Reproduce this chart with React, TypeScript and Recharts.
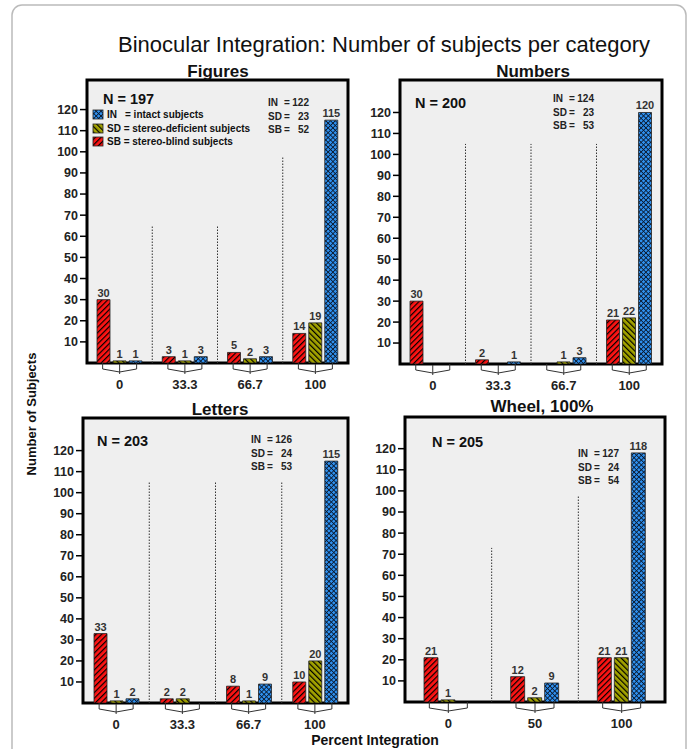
import React from "react";
import {
  Bar,
  BarChart,
  CartesianGrid,
  LabelList,
  ReferenceArea,
  ReferenceLine,
  XAxis,
  YAxis,
} from "recharts";

const FONT = "'Liberation Sans', Arial, Helvetica, sans-serif";

// categories
const CATS4 = ["0", "33.3", "66.7", "100"];
const WHEEL_CATS = ["0", "50", "100"];
const Y_TICKS = [10, 20, 30, 40, 50, 60, 70, 80, 90, 100, 110, 120];

// Figures
const figuresSB = [30, 3, 5, 14];
const figuresSD = [1, 1, 2, 19];
const figuresIN = [1, 3, 3, 115];
const figuresSep = [65, 65, 98];

// Numbers
const numbersSB = [30, 2, null, 21];
const numbersSD = [null, null, 1, 22];
const numbersIN = [null, 1, 3, 120];
const numbersSep = [105, 105, 105];

// Letters
const lettersSB = [33, 2, 8, 10];
const lettersSD = [1, 2, 1, 20];
const lettersIN = [2, null, 9, 115];
const lettersSep = [105, 105, 105];

// Wheel, 100%
const wheelSB = [21, 12, 21];
const wheelSD = [1, 2, 21];
const wheelIN = [null, 9, 118];
const wheelSep = [73, 98];

// totals per panel (IN, SD, SB)
const figuresTot = ["122", "23", "52"];
const numbersTot = ["124", "23", "53"];
const lettersTot = ["126", "24", "53"];
const wheelTot = ["127", "24", "54"];

type Val = number | null;

type PanelProps = {
  plot: { x0: number; x1: number; y0: number; y1: number };
  cats: string[];
  sb: Val[];
  sd: Val[];
  inn: Val[];
  seps: number[];
  dmax: number;
  barSize: number;
  half: number;
};

const YW = 57;
const MT = 20;
const MR = 12;
const XH = 40;

function BracketTick(props: any) {
  const { x, y, payload, half } = props;
  return (
    <g>
      <path
        d={`M${x - half},${y} L${x - half},${y + 6} L${x},${y + 9} L${x + half},${y + 6} L${x + half},${y}`}
        fill="none"
        stroke="#333"
        strokeWidth={1}
      />
      <line x1={x} y1={y + 1} x2={x} y2={y + 11} stroke="#333" strokeWidth={1} />
      <text
        x={x}
        y={y + 26}
        textAnchor="middle"
        fontFamily={FONT}
        fontWeight="bold"
        fontSize={13}
        fill="#222"
      >
        {payload.value}
      </text>
    </g>
  );
}

function Panel({ plot, cats, sb, sd, inn, seps, dmax, barSize, half }: PanelProps) {
  const data = cats.map((c, i) => ({ cat: c, idx: i + 0.5, sb: sb[i], sd: sd[i], inn: inn[i] }));
  const width = plot.x1 - plot.x0 + YW + MR;
  const height = plot.y1 - plot.y0 + MT + XH;
  const labelStyle = { fontFamily: FONT, fontWeight: "bold", fontSize: 11, fill: "#333" };
  return (
    <div style={{ position: "absolute", left: plot.x0 - YW, top: plot.y0 - MT }}>
      <BarChart
        width={width}
        height={height}
        data={data}
        margin={{ top: MT, right: MR, bottom: 0, left: 0 }}
        barGap={3}
      >
        <CartesianGrid fill="#efefef" stroke="none" horizontal={false} vertical={false} />
        <XAxis
          dataKey="cat"
          height={XH}
          axisLine={false}
          tickLine={false}
          tickSize={0}
          tickMargin={0}
          interval={0}
          tick={<BracketTick half={half} />}
        />
        <XAxis xAxisId="sep" dataKey="idx" type="number" domain={[0, cats.length]} hide allowDataOverflow />
        <YAxis
          width={YW}
          domain={[0, dmax]}
          ticks={Y_TICKS}
          allowDataOverflow
          axisLine={false}
          tickSize={7}
          tickLine={{ stroke: "#000", strokeWidth: 1.5 }}
          tick={{ fontFamily: FONT, fontWeight: "bold", fontSize: 12.5, fill: "#222" }}
        />
        {seps.map((h, i) => (
          <ReferenceLine
            key={i}
            xAxisId="sep"
            segment={[
              { x: i + 1, y: 0 },
              { x: i + 1, y: h },
            ]}
            stroke="#333"
            strokeDasharray="1.5 1.5"
            strokeWidth={1}
          />
        ))}
        <Bar dataKey="sb" fill="url(#pRed)" stroke="#222" strokeWidth={0.8} barSize={barSize} isAnimationActive={false}>
          <LabelList dataKey="sb" position="top" offset={3} style={labelStyle} />
        </Bar>
        <Bar dataKey="sd" fill="url(#pOlive)" stroke="#222" strokeWidth={0.8} barSize={barSize} isAnimationActive={false}>
          <LabelList dataKey="sd" position="top" offset={3} style={labelStyle} />
        </Bar>
        <Bar dataKey="inn" fill="url(#pBlue)" stroke="#222" strokeWidth={0.8} barSize={barSize} isAnimationActive={false}>
          <LabelList dataKey="inn" position="top" offset={3} style={labelStyle} />
        </Bar>
        <ReferenceArea
          xAxisId="sep"
          x1={0}
          x2={cats.length}
          y1={0}
          y2={dmax}
          fill="none"
          stroke="#000"
          strokeWidth={3}
          ifOverflow="visible"
        />
      </BarChart>
    </div>
  );
}

const GROUPS = ["IN", "SD", "SB"];

function Info({ x, y, vals }: { x: number; y: number; vals: string[] }) {
  return (
    <g fontFamily={FONT} fontWeight="bold" fontSize={10} fill="#222">
      {vals.map((v, i) => (
        <g key={i}>
          <text x={x} y={y + i * 13.5}>{GROUPS[i]}</text>
          <text x={x + 16} y={y + i * 13.5}>=</text>
          <text x={x + 41} y={y + i * 13.5} textAnchor="end">{v}</text>
        </g>
      ))}
    </g>
  );
}

export default function App() {
  return (
    <div style={{ position: "absolute", left: 0, top: 0, width: 693, height: 749, background: "#fff", fontFamily: FONT }}>
      <Panel plot={{ x0: 87, x1: 348, y0: 80, y1: 363 }} cats={CATS4} sb={figuresSB} sd={figuresSD} inn={figuresIN} seps={figuresSep} dmax={134} barSize={13} half={17} />
      <Panel plot={{ x0: 400, x1: 662, y0: 80, y1: 364 }} cats={CATS4} sb={numbersSB} sd={numbersSD} inn={numbersIN} seps={numbersSep} dmax={135.5} barSize={13} half={17} />
      <Panel plot={{ x0: 83, x1: 348, y0: 418, y1: 703 }} cats={CATS4} sb={lettersSB} sd={lettersSD} inn={lettersIN} seps={lettersSep} dmax={135.5} barSize={13} half={17} />
      <Panel plot={{ x0: 405, x1: 665, y0: 417, y1: 702 }} cats={WHEEL_CATS} sb={wheelSB} sd={wheelSD} inn={wheelIN} seps={wheelSep} dmax={135} barSize={14} half={19} />
      <svg width={693} height={749} style={{ position: "absolute", left: 0, top: 0, pointerEvents: "none" }}>
        <defs>
          <pattern id="pRed" patternUnits="userSpaceOnUse" width={4} height={4} patternTransform="rotate(45)">
            <rect width={4} height={4} fill="#ff1414" />
            <line x1={0.6} y1={0} x2={0.6} y2={4} stroke="#000" strokeWidth={1.2} />
          </pattern>
          <pattern id="pOlive" patternUnits="userSpaceOnUse" width={4} height={4} patternTransform="rotate(-45)">
            <rect width={4} height={4} fill="#a3a300" />
            <line x1={0.6} y1={0} x2={0.6} y2={4} stroke="#000" strokeWidth={1.2} />
          </pattern>
          <pattern id="pBlue" patternUnits="userSpaceOnUse" width={3.4} height={3.4} patternTransform="rotate(45)">
            <rect width={3.4} height={3.4} fill="#2f90ee" />
            <line x1={0.4} y1={0} x2={0.4} y2={3.4} stroke="#0a1a30" strokeWidth={0.9} />
            <line x1={0} y1={0.4} x2={3.4} y2={0.4} stroke="#0a1a30" strokeWidth={0.9} />
          </pattern>
        </defs>
        <rect x={12} y={5} width={674} height={760} rx={10} fill="none" stroke="#bbb" strokeWidth={1.5} />
        <text x={384} y={52} textAnchor="middle" fontSize={22} fill="#111">
          Binocular Integration: Number of subjects per category
        </text>
        <g fontWeight="bold" fontSize={17} fill="#111" textAnchor="middle">
          <text x={218} y={77}>Figures</text>
          <text x={533} y={77}>Numbers</text>
          <text x={220} y={415}>Letters</text>
          <text x={542} y={412}>Wheel, 100%</text>
        </g>
        <g fontWeight="bold" fontSize={14.5} fill="#111">
          <text x={103} y={104}>N = 197</text>
          <text x={415} y={108}>N = 200</text>
          <text x={97} y={446}>N = 203</text>
          <text x={432} y={447}>N = 205</text>
        </g>
        <g fontWeight="bold" fontSize={10} fill="#111">
          <rect x={93} y={110} width={10} height={9} fill="url(#pBlue)" stroke="#222" strokeWidth={0.8} />
          <text x={107} y={118}>IN</text>
          <text x={125} y={118}>= intact subjects</text>
          <rect x={93} y={124} width={10} height={9} fill="url(#pOlive)" stroke="#222" strokeWidth={0.8} />
          <text x={107} y={132}>SD = stereo-deficient subjects</text>
          <rect x={93} y={137} width={10} height={9} fill="url(#pRed)" stroke="#222" strokeWidth={0.8} />
          <text x={107} y={145}>SB = stereo-blind subjects</text>
        </g>
        <Info x={268} y={106} vals={figuresTot} />
        <Info x={553} y={102} vals={numbersTot} />
        <Info x={251} y={443} vals={lettersTot} />
        <Info x={578} y={457} vals={wheelTot} />
        <text
          x={36}
          y={414}
          transform="rotate(-90 36 414)"
          textAnchor="middle"
          fontWeight="bold"
          fontSize={13}
          fill="#111"
        >
          Number of Subjects
        </text>
        <text x={375} y={745} textAnchor="middle" fontWeight="bold" fontSize={14} fill="#111">
          Percent Integration
        </text>
      </svg>
    </div>
  );
}
